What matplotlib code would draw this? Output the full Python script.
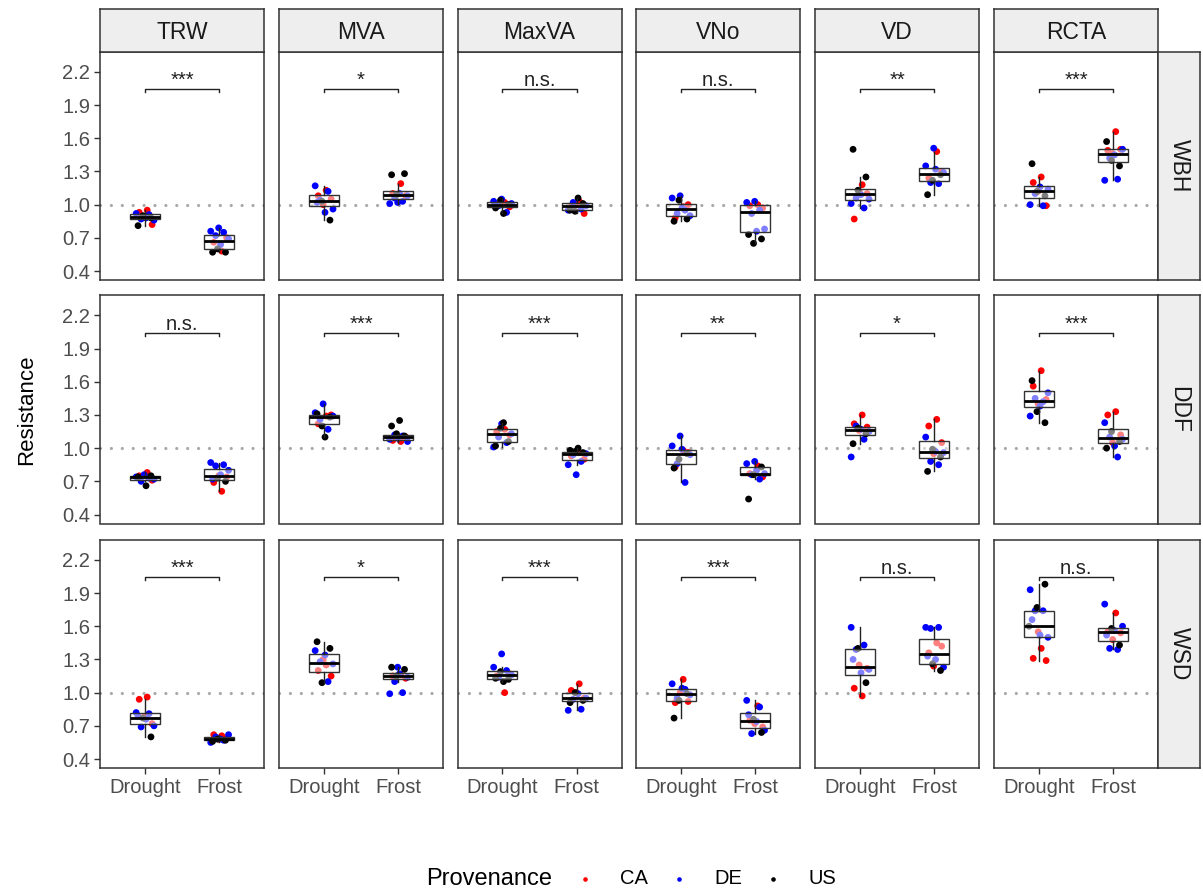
import numpy as np
import matplotlib
matplotlib.use("Agg")
import matplotlib.pyplot as plt
from matplotlib.lines import Line2D

plt.rcParams['font.family'] = ['Liberation Sans', 'DejaVu Sans']

# ---------------- data ----------------
traits = ["TRW", "MVA", "MaxVA", "VNo", "VD", "RCTA"]
events = ["WBH", "DDF", "WSD"]
conditions = ["Drought", "Frost"]
provenances = ["CA", "DE", "US"]
prov_colors = {"CA": "#FF0000", "DE": "#0000FF", "US": "#000000"}
y_ticks = [0.4, 0.7, 1.0, 1.3, 1.6, 1.9, 2.2]

sig_WBH = ["***", "*", "n.s.", "n.s.", "**", "***"]
sig_DDF = ["n.s.", "***", "***", "**", "*", "***"]
sig_WSD = ["***", "*", "***", "***", "n.s.", "n.s."]

# ---- WBH ----
WBH_TRW = {"Drought": {"CA": [0.95, 0.93, 0.82, 0.89], "DE": [0.92, 0.91, 0.87, 0.86, 0.88], "US": [0.81, 0.88, 0.90]},
           "Frost": {"CA": [0.58, 0.66, 0.70], "DE": [0.79, 0.76, 0.75, 0.72, 0.69, 0.64], "US": [0.57, 0.57, 0.60]}}
WBH_MVA = {"Drought": {"CA": [1.13, 1.08, 1.05, 1.00], "DE": [1.17, 1.12, 1.04, 0.96, 0.93, 1.02], "US": [0.86, 1.03]},
           "Frost": {"CA": [1.19, 1.10, 1.08], "DE": [1.02, 1.01, 1.03, 1.06, 1.08, 1.10], "US": [1.27, 1.28, 1.09]}}
WBH_MaxVA = {"Drought": {"CA": [1.02, 1.00, 0.98], "DE": [1.05, 1.03, 0.93, 0.99, 1.01], "US": [0.92, 0.97, 1.00, 1.04]},
             "Frost": {"CA": [1.03, 0.98, 0.92, 1.00], "DE": [0.95, 0.96, 1.02, 0.99], "US": [1.06, 0.95, 1.01, 0.94]}}
WBH_VNo = {"Drought": {"CA": [0.98, 0.88, 1.00], "DE": [1.08, 1.06, 0.95, 0.92, 0.90, 0.97], "US": [0.85, 0.87, 1.04]},
           "Frost": {"CA": [1.00, 0.99, 0.97], "DE": [1.03, 1.02, 0.95, 0.92, 0.78, 0.76], "US": [0.73, 0.69, 0.65]}}
WBH_VD = {"Drought": {"CA": [1.18, 0.87, 1.10, 1.12], "DE": [1.01, 0.97, 1.06, 1.05, 1.09], "US": [1.50, 1.25, 1.13]},
          "Frost": {"CA": [1.48, 1.24, 1.30], "DE": [1.51, 1.35, 1.19, 1.20, 1.29, 1.32], "US": [1.09, 1.27, 1.22]}}
WBH_RCTA = {"Drought": {"CA": [1.25, 1.20, 0.99, 1.12], "DE": [1.00, 0.99, 1.10, 1.14, 1.16], "US": [1.37, 1.08, 1.12]},
            "Frost": {"CA": [1.66, 1.49, 1.50, 1.46], "DE": [1.22, 1.23, 1.42, 1.50, 1.45], "US": [1.57, 1.35, 1.40]}}

# ---- DDF ----
DDF_TRW = {"Drought": {"CA": [0.78, 0.75, 0.71], "DE": [0.76, 0.74, 0.73, 0.70, 0.72], "US": [0.66, 0.74, 0.75]},
           "Frost": {"CA": [0.61, 0.69, 0.74, 0.75], "DE": [0.87, 0.85, 0.84, 0.80, 0.76, 0.72], "US": [0.70, 0.73]}}
DDF_MVA = {"Drought": {"CA": [1.29, 1.22, 1.30], "DE": [1.40, 1.32, 1.17, 1.26, 1.29], "US": [1.10, 1.31, 1.28, 1.20]},
           "Frost": {"CA": [1.06, 1.07, 1.10], "DE": [1.09, 1.08, 1.11, 1.12, 1.06], "US": [1.25, 1.20, 1.11, 1.13]}}
DDF_MaxVA = {"Drought": {"CA": [1.17, 1.15, 1.12], "DE": [1.22, 1.01, 1.05, 1.10, 1.13], "US": [1.23, 1.02, 1.06, 1.18]},
             "Frost": {"CA": [0.96, 0.93, 0.90], "DE": [0.76, 0.85, 0.88, 0.94, 0.95], "US": [1.00, 0.98, 0.96, 0.97]}}
DDF_VNo = {"Drought": {"CA": [0.98, 0.83, 0.96], "DE": [1.11, 1.02, 0.69, 0.86, 0.94, 0.99], "US": [0.82, 0.95, 0.90]},
           "Frost": {"CA": [0.84, 0.77, 0.74], "DE": [0.88, 0.86, 0.72, 0.76, 0.77, 0.80], "US": [0.54, 0.83, 0.76]}}
DDF_VD = {"Drought": {"CA": [1.30, 1.22, 1.19, 1.16], "DE": [0.92, 1.08, 1.20, 1.15, 1.17], "US": [1.04, 1.13, 1.18]},
          "Frost": {"CA": [1.26, 1.20, 1.05, 0.95], "DE": [1.10, 0.85, 0.88, 0.96, 0.97], "US": [0.79, 0.92, 0.99]}}
DDF_RCTA = {"Drought": {"CA": [1.70, 1.56, 1.44, 1.40], "DE": [1.29, 1.42, 1.45, 1.50, 1.38], "US": [1.61, 1.23, 1.33]},
            "Frost": {"CA": [1.33, 1.30, 1.12, 1.05], "DE": [1.23, 0.92, 1.10, 1.08, 1.02], "US": [1.00, 1.06, 1.15]}}

# ---- WSD ----
WSD_TRW = {"Drought": {"CA": [0.96, 0.94, 0.72, 0.78], "DE": [0.82, 0.81, 0.69, 0.70, 0.76, 0.79], "US": [0.60, 0.77]},
           "Frost": {"CA": [0.61, 0.62, 0.59, 0.58], "DE": [0.55, 0.57, 0.60, 0.62, 0.58], "US": [0.56, 0.57, 0.58]}}
WSD_MVA = {"Drought": {"CA": [1.25, 1.20, 1.15, 1.30], "DE": [1.38, 1.10, 1.28, 1.26, 1.34], "US": [1.46, 1.40, 1.09]},
           "Frost": {"CA": [1.16, 1.15, 1.13], "DE": [1.23, 0.99, 1.00, 1.10, 1.14, 1.17], "US": [1.23, 1.21, 1.15]}}
WSD_MaxVA = {"Drought": {"CA": [1.00, 1.15, 1.17], "DE": [1.35, 1.23, 1.20, 1.14, 1.16], "US": [1.10, 1.13, 1.12, 1.19]},
             "Frost": {"CA": [1.08, 1.02, 0.95, 1.00], "DE": [0.84, 0.85, 0.94, 0.95, 0.99], "US": [0.91, 0.93, 1.00]}}
WSD_VNo = {"Drought": {"CA": [1.12, 0.91, 0.92, 1.00], "DE": [1.08, 1.03, 0.95, 0.98, 1.04], "US": [0.77, 0.99, 0.93]},
           "Frost": {"CA": [0.88, 0.75, 0.69, 0.72], "DE": [0.93, 0.87, 0.63, 0.66, 0.74, 0.80], "US": [0.64, 0.76]}}
WSD_VD = {"Drought": {"CA": [0.97, 1.04, 1.22, 1.25], "DE": [1.59, 1.43, 1.39, 1.21, 1.18, 1.30], "US": [1.09, 1.40]},
          "Frost": {"CA": [1.45, 1.36, 1.42, 1.24], "DE": [1.59, 1.59, 1.58, 1.23, 1.30, 1.33], "US": [1.20, 1.26]}}
WSD_RCTA = {"Drought": {"CA": [1.40, 1.31, 1.29, 1.55], "DE": [1.93, 1.74, 1.74, 1.50, 1.52, 1.66], "US": [1.98, 1.77, 1.60]},
            "Frost": {"CA": [1.72, 1.55, 1.54, 1.48], "DE": [1.80, 1.39, 1.40, 1.60, 1.56, 1.52], "US": [1.43, 1.58]}}

panels = {
    "WBH": [WBH_TRW, WBH_MVA, WBH_MaxVA, WBH_VNo, WBH_VD, WBH_RCTA],
    "DDF": [DDF_TRW, DDF_MVA, DDF_MaxVA, DDF_VNo, DDF_VD, DDF_RCTA],
    "WSD": [WSD_TRW, WSD_MVA, WSD_MaxVA, WSD_VNo, WSD_VD, WSD_RCTA],
}
sigs = {"WBH": sig_WBH, "DDF": sig_DDF, "WSD": sig_WSD}

# ---------------- layout ----------------
W, H = 1203, 893
fig = plt.figure(figsize=(W / 100, H / 100), dpi=100)
fig.patch.set_facecolor("white")

col_x = [100, 279, 457.5, 636, 815, 994]
pw = 164
row_y = [51.5, 295, 539.5]
ph = 228.5
strip_h = 43
rstrip_w = 42
border_col = "#333333"
strip_fill = "#EEEEEE"


def px(x, y, w, h):
    return [x / W, 1 - (y + h) / H, w / W, h / H]


def jitter(n):
    return np.array([(((i + 1) * 0.618034) % 1.0 - 0.5) * 0.28 for i in range(n)])


for r, ev in enumerate(events):
    for c, tr in enumerate(traits):
        ax = fig.add_axes(px(col_x[c], row_y[r], pw, ph))
        ax.set_xlim(0.4, 2.6)
        ax.set_ylim(0.319, 2.384)
        ax.axhline(1.0, color="#A8A8A8", lw=2.3, linestyle=(0, (0.01, 3.4)),
                   dash_capstyle="round", zorder=1)
        pdata = panels[ev][c]
        for k, cond in enumerate(conditions):
            grp = pdata[cond]
            ys, cs = [], []
            for p in provenances:
                ys += grp[p]
                cs += [prov_colors[p]] * len(grp[p])
            xs = (k + 1) + jitter(len(ys))
            ax.scatter(xs, ys, s=24, c=cs, edgecolors="none", zorder=2)
            ax.boxplot([ys], positions=[k + 1], widths=0.4, showfliers=False,
                       patch_artist=True, manage_ticks=False, zorder=3,
                       boxprops=dict(facecolor=(1, 1, 1, 0.5), edgecolor="#333333", linewidth=1.0),
                       medianprops=dict(color="black", linewidth=2.0),
                       whiskerprops=dict(color="#222222", linewidth=1.0),
                       capprops=dict(linewidth=0))
        # significance bracket
        ax.plot([1, 1, 2, 2], [2.017, 2.045, 2.045, 2.017], color="#222222", lw=1.0, zorder=4)
        ax.text(1.5, 2.035, sigs[ev][c], ha="center", va="bottom", fontsize=14.5, color="#222222")

        for s in ax.spines.values():
            s.set_color(border_col)
            s.set_linewidth(1.1)
        ax.set_yticks(y_ticks)
        ax.set_xticks([1, 2])
        ax.tick_params(axis="both", length=4, width=1.0, color=border_col,
                       labelsize=14.5, labelcolor="#4D4D4D", pad=3)
        if c == 0:
            ax.set_yticklabels([f"{v:.1f}" for v in y_ticks])
        else:
            ax.tick_params(axis="y", length=0, labelleft=False)
        if r == 2:
            ax.set_xticklabels(conditions)
        else:
            ax.tick_params(axis="x", length=0, labelbottom=False)

        # top strips
        if r == 0:
            sax = fig.add_axes(px(col_x[c], row_y[0] - strip_h, pw, strip_h))
            sax.set_xticks([]); sax.set_yticks([])
            sax.set_facecolor(strip_fill)
            for s in sax.spines.values():
                s.set_color(border_col); s.set_linewidth(1.1)
            sax.text(0.5, 0.45, tr, ha="center", va="center", fontsize=16.5, color="#1A1A1A",
                     transform=sax.transAxes)
    # right strips
    rax = fig.add_axes(px(col_x[5] + pw, row_y[r], rstrip_w, ph))
    rax.set_xticks([]); rax.set_yticks([])
    rax.set_facecolor(strip_fill)
    for s in rax.spines.values():
        s.set_color(border_col); s.set_linewidth(1.1)
    rax.text(0.5, 0.5, ev, ha="center", va="center", rotation=-90, fontsize=16.5,
             color="#1A1A1A", transform=rax.transAxes)

# y label
fig.text(27 / W, 1 - 410 / H, "Resistance", rotation=90, ha="center", va="center",
         fontsize=16, color="black")

# legend (title to the left of the keys, as in ggplot bottom legend)
leg_y = 1 - 879 / H
fig.text(489 / W, leg_y, "Provenance", ha="center", va="center", fontsize=17, color="black")
key_x0, key_step, key_gap = 585, 94, 35
for i, p in enumerate(provenances):
    kx = key_x0 + i * key_step
    fig.add_artist(Line2D([kx / W], [leg_y], marker="o", linestyle="none", markersize=3.3,
                          markerfacecolor=prov_colors[p], markeredgecolor="none",
                          transform=fig.transFigure))
    fig.text((kx + key_gap) / W, leg_y, p, ha="left", va="center", fontsize=14.5, color="black")

fig.savefig("out.png", dpi=100, facecolor="white")
